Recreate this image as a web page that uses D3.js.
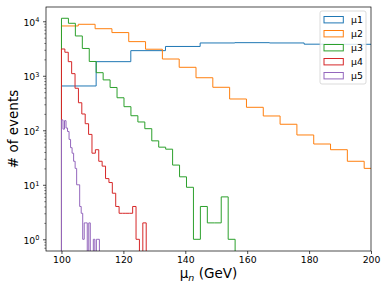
<!DOCTYPE html>
<html>
<head>
<meta charset="utf-8">
<script src="https://cdn.jsdelivr.net/npm/d3@7"></script>
<style>
  body { margin: 0; background: white; }
  text { font-family: "DejaVu Sans", sans-serif; fill: black; }
</style>
</head>
<body>
<div id="chart"></div>
<script>
// histogram data (counts per bin)
var seriesNames = ["μ1", "μ2", "μ3", "μ4", "μ5"];
var binStart = [100, 100, 100, 100, 100];
var binWidth = [11.2, 5.433, 2.244, 1.095, 0.49];

var mu1Counts = [650, 1815, 2890, 3450, 4000, 4050, 4000, 3800, 3780];
var mu2Counts = [8200, 8800, 7300, 6200, 4230, 3070, 2030, 1430, 920, 615, 375, 264, 183, 129, 82, 56, 44, 27, 20, 14];
var mu3Counts = [11350, 9180, 5375, 3170, 1830, 1140, 840, 610, 395, 271, 185, 142, 107, 64, 49, 45, 23, 14, 9, 1, 4, 2, 2, 6, 1];
var mu4Counts = [3100, 2700, 1815, 1094, 590, 320, 199, 132, 84, 38, 44, 27, 22, 13, 11, 7, 4, 3, 3, 3, 3, 4, 1, 0, 2];
var mu5Counts = [155, 105, 150, 110, 95, 68, 48, 38, 27, 20, 10, 10, 4, 3, 1, 2, 2, 0, 2, 0, 0, 1, 0, 1, 1];

var xTicks = [100, 120, 140, 160, 180, 200];
var yTicks = [1, 10, 100, 1000, 10000];
var yTickExp = ["0", "1", "2", "3", "4"];

var allCounts = [mu1Counts, mu2Counts, mu3Counts, mu4Counts, mu5Counts];
var colors = ["#1f77b4", "#ff7f0e", "#2ca02c", "#d62728", "#9467bd"];

//--------------------------------

var W = 388, H = 291;
var pLeft = 46, pRight = 371, pTop = 7, pBottom = 251;

var svg = d3.select("#chart").append("svg")
  .attr("width", W)
  .attr("height", H);

var x = d3.scaleLinear().domain([95, 200]).range([pLeft, pRight]);
var y = d3.scaleLog().domain([0.61, 18270]).range([pBottom, pTop]);

svg.append("defs").append("clipPath").attr("id", "plotclip")
  .append("rect")
  .attr("x", pLeft).attr("y", pTop)
  .attr("width", pRight - pLeft).attr("height", pBottom - pTop);

// zero counts (and the outline ends) fall below the axis
function yv(v) {
  return v > 0 ? y(v) : pBottom + 30;
}

var line = d3.line()
  .x(function (d) { return x(d[0]); })
  .y(function (d) { return yv(d[1]); });

var plot = svg.append("g").attr("clip-path", "url(#plotclip)");

allCounts.forEach(function (counts, s) {
  var pts = [[binStart[s], 0]];
  counts.forEach(function (c, i) {
    var e0 = binStart[s] + i * binWidth[s];
    var e1 = binStart[s] + (i + 1) * binWidth[s];
    pts.push([e0, c]);
    pts.push([e1, c]);
  });
  pts.push([binStart[s] + counts.length * binWidth[s], 0]);

  plot.append("path")
    .attr("d", line(pts))
    .attr("fill", "none")
    .attr("stroke", colors[s])
    .attr("stroke-width", 1);
});

// x axis
var xAxis = svg.append("g")
  .attr("transform", "translate(0," + pBottom + ")")
  .call(d3.axisBottom(x).tickValues(xTicks).tickSize(3).tickPadding(2).tickFormat(d3.format("d")));
xAxis.select(".domain").remove();
xAxis.selectAll(".tick line").attr("stroke", "black").attr("stroke-width", 0.7);
xAxis.selectAll(".tick text").attr("font-size", "9.3px").attr("font-family", "DejaVu Sans");

// y axis, minor ticks first
var minor = y.ticks().filter(function (d) {
  return yTicks.indexOf(d) < 0;
});
var yMinor = svg.append("g")
  .attr("transform", "translate(" + pLeft + ",0)")
  .call(d3.axisLeft(y).tickValues(minor).tickSize(1.7).tickFormat(""));
yMinor.select(".domain").remove();
yMinor.selectAll(".tick line").attr("stroke", "black").attr("stroke-width", 0.5);

var yAxis = svg.append("g")
  .attr("transform", "translate(" + pLeft + ",0)")
  .call(d3.axisLeft(y).tickValues(yTicks).tickSize(3).tickFormat(""));
yAxis.select(".domain").remove();
yAxis.selectAll(".tick line").attr("stroke", "black").attr("stroke-width", 0.7);

yAxis.selectAll(".tick").each(function (d, i) {
  var t = d3.select(this).append("text")
    .attr("x", -6.5)
    .attr("y", 4)
    .attr("text-anchor", "end")
    .attr("font-size", "9.3px");
  t.append("tspan").text("10");
  t.append("tspan")
    .attr("dy", -3.4)
    .attr("font-size", "6.6px")
    .text(yTickExp[i]);
});

// spines
svg.append("rect")
  .attr("x", pLeft).attr("y", pTop)
  .attr("width", pRight - pLeft).attr("height", pBottom - pTop)
  .attr("fill", "none")
  .attr("stroke", "black")
  .attr("stroke-width", 0.7);

// axis labels
var xl = svg.append("text")
  .attr("x", (pLeft + pRight) / 2)
  .attr("y", 278)
  .attr("text-anchor", "middle")
  .attr("font-size", "13.5px");
xl.append("tspan").text("μ");
xl.append("tspan").attr("dy", 2.5).attr("font-size", "9.5px").attr("font-style", "italic").text("n");
xl.append("tspan").attr("dy", -2.5).text(" (GeV)");

svg.append("text")
  .attr("transform", "translate(18," + (pTop + pBottom) / 2 + ") rotate(-90)")
  .attr("text-anchor", "middle")
  .attr("font-size", "13.5px")
  .text("# of events");

// legend
var lg = svg.append("g").attr("transform", "translate(320,11)");
lg.append("rect")
  .attr("width", 46).attr("height", 73)
  .attr("rx", 2)
  .attr("fill", "white").attr("fill-opacity", 0.8)
  .attr("stroke", "#cccccc").attr("stroke-width", 0.7);

var items = lg.selectAll("g.item").data(seriesNames).enter().append("g")
  .attr("class", "item")
  .attr("transform", function (d, i) { return "translate(0," + (8.7 + i * 14) + ")"; });
items.append("rect")
  .attr("x", 4).attr("y", -3.2)
  .attr("width", 19.3).attr("height", 6.4)
  .attr("fill", "none")
  .attr("stroke", function (d, i) { return colors[i]; })
  .attr("stroke-width", 1);
items.append("text")
  .attr("x", 31)
  .attr("y", 3.4)
  .attr("font-size", "9.3px")
  .text(function (d) { return d; });
</script>
</body>
</html>
